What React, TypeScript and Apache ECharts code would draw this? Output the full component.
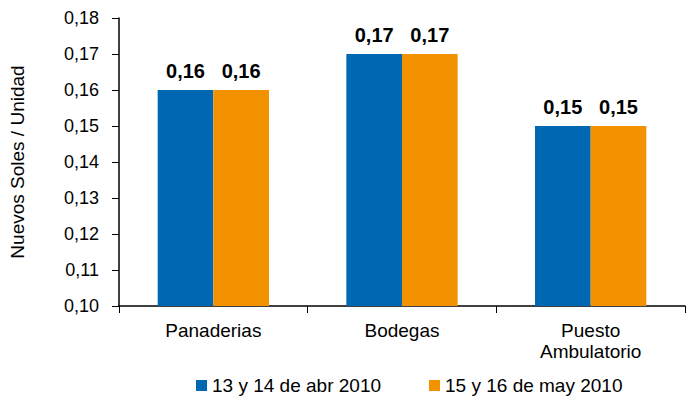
import React, { useEffect, useRef } from "react";
import * as echarts from "echarts";

const categories = ["Panaderias", "Bodegas", "Puesto\nAmbulatorio"];
const seriesNames = ["13 y 14 de abr 2010", "15 y 16 de may 2010"];
const abrValues = [0.16, 0.17, 0.15];
const mayValues = [0.16, 0.17, 0.15];
const yMin = 0.1;
const yMax = 0.18;
const yStep = 0.01;
const colors = ["#0068B3", "#F39200"];

const fmt = (v: number) => v.toFixed(2).replace(".", ",");
const FONT = "'Liberation Sans', Arial, sans-serif";

export default function App() {
  const ref = useRef<HTMLDivElement>(null);
  useEffect(() => {
    document.body.style.margin = "0";
    if (!ref.current) return;
    const chart = echarts.init(ref.current, undefined, { renderer: "svg" });
    const labelCfg = {
      show: true,
      position: "top" as const,
      distance: 9,
      fontFamily: FONT,
      fontWeight: "bold" as const,
      fontSize: 20,
      color: "#000",
      formatter: (p: any) => fmt(p.value),
    };
    chart.setOption({
      animation: false,
      textStyle: { fontFamily: FONT },
      grid: { left: 117, right: 1, top: 18, bottom: 99, containLabel: false },
      legend: {
        bottom: 5,
        left: 191,
        itemWidth: 11,
        itemHeight: 11,
        itemGap: 48,
        icon: "rect",
        textStyle: { fontFamily: FONT, fontSize: 19, color: "#000" },
        data: seriesNames,
      },
      xAxis: {
        type: "category",
        data: categories,
        axisLine: { lineStyle: { color: "#000", width: 1.5 } },
        axisTick: { show: true, length: 7, lineStyle: { color: "#000" } },
        axisLabel: {
          fontFamily: FONT,
          fontSize: 19,
          color: "#000",
          margin: 14,
          lineHeight: 21,
        },
      },
      yAxis: {
        type: "value",
        min: yMin,
        max: yMax,
        interval: yStep,
        name: "Nuevos Soles / Unidad",
        nameLocation: "middle",
        nameGap: 92,
        nameTextStyle: { fontFamily: FONT, fontSize: 19, color: "#000" },
        axisLine: { show: true, lineStyle: { color: "#000", width: 1.5 } },
        axisTick: { show: true, length: 7, lineStyle: { color: "#000" } },
        splitLine: { show: false },
        axisLabel: {
          fontFamily: FONT,
          fontSize: 18,
          color: "#000",
          margin: 20,
          formatter: (v: number) => fmt(v),
        },
      },
      series: [
        {
          name: seriesNames[0],
          type: "bar",
          data: abrValues,
          itemStyle: { color: colors[0] },
          barGap: "0%",
          barCategoryGap: "41%",
          label: labelCfg,
        },
        {
          name: seriesNames[1],
          type: "bar",
          data: mayValues,
          itemStyle: { color: colors[1] },
          barGap: "0%",
          barCategoryGap: "41%",
          label: labelCfg,
        },
      ],
    });
    return () => chart.dispose();
  }, []);
  return <div ref={ref} style={{ width: 686, height: 405 }} />;
}
